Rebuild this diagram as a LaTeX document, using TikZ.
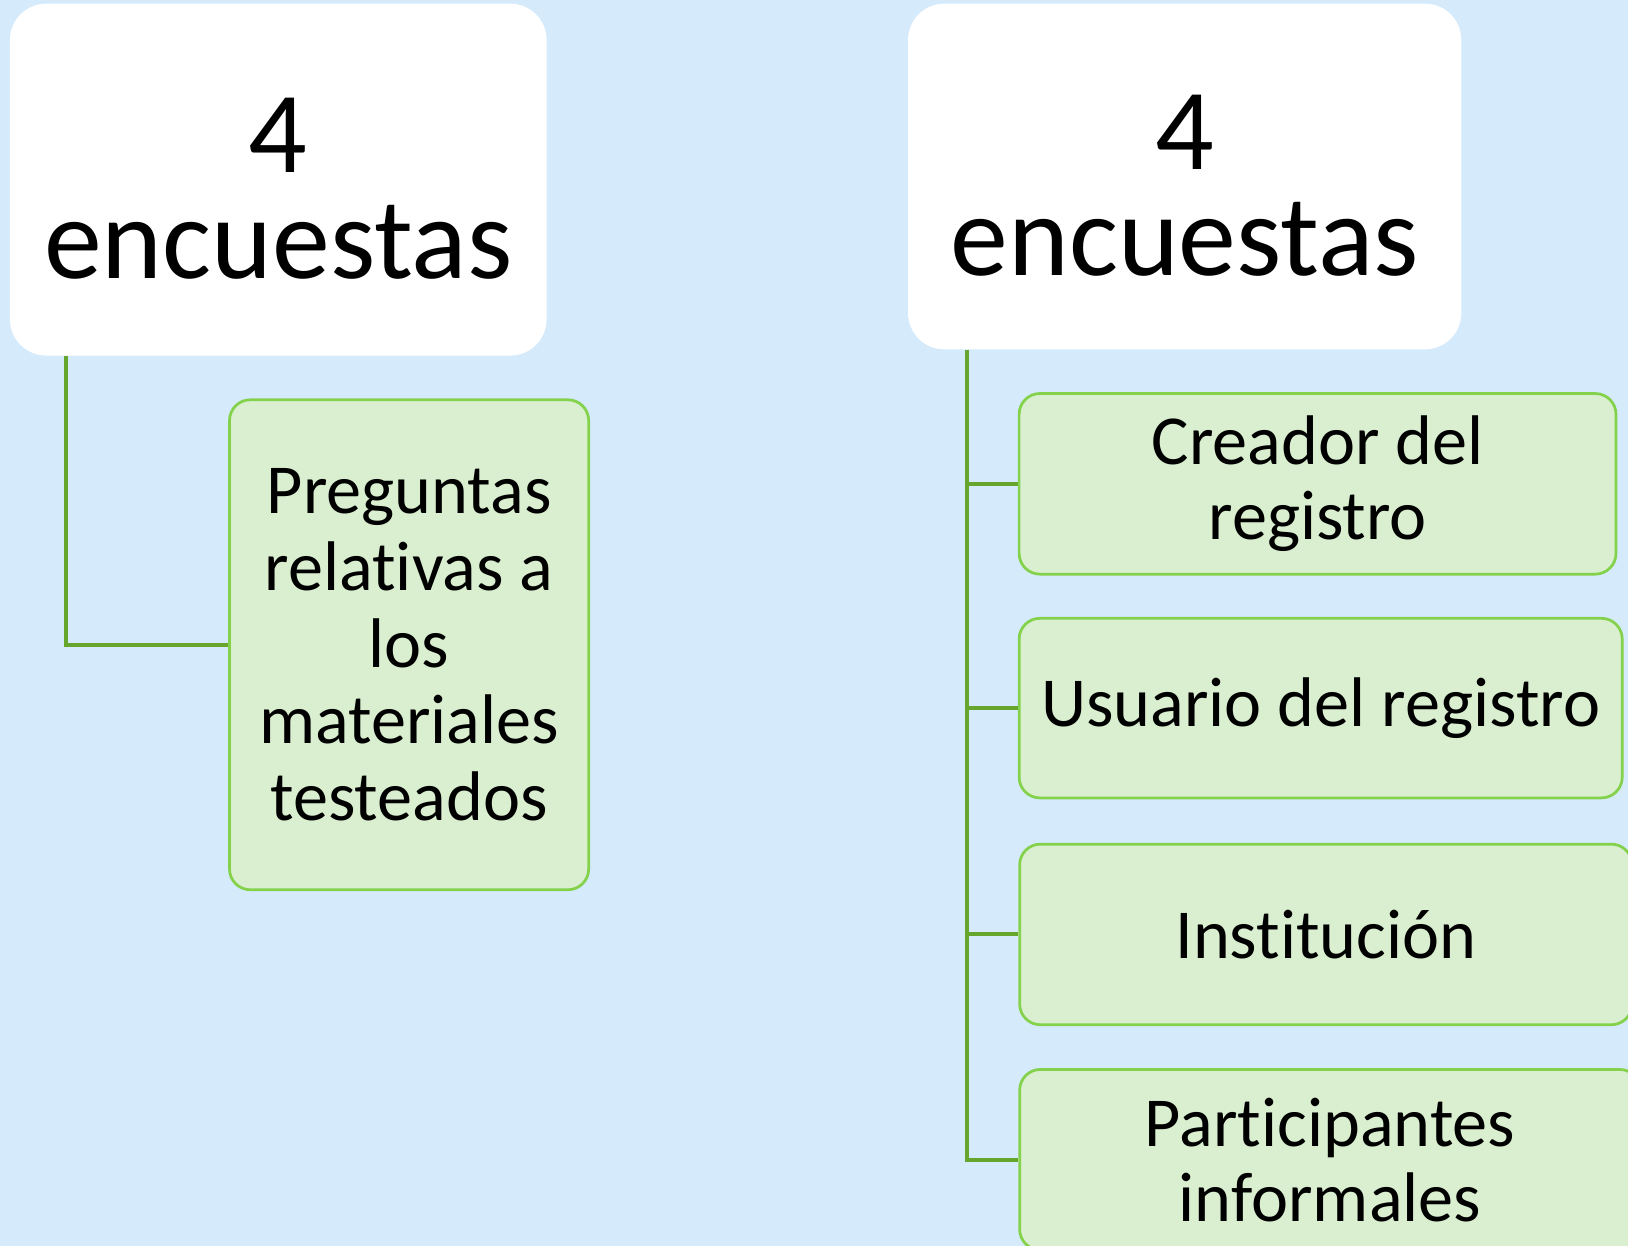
\documentclass[tikz,border=0pt]{standalone}
\usepackage{fontspec}
\setmainfont{Carlito}[Ligatures=NoCommon]
\usetikzlibrary{positioning}
\definecolor{sky}{HTML}{D5EAFB}
\definecolor{leaf}{HTML}{D9EFD0}
\definecolor{leafline}{HTML}{84D24C}
\definecolor{stem}{HTML}{66A62D}
\newcommand{\lowered}[1]{\raisebox{-5pt}[\height][\depth]{#1}}

\begin{document}
\begin{tikzpicture}[x=0.02cm,y=-0.02cm,
  head/.style={rectangle,rounded corners=0.7cm,fill=white,align=center,inner sep=0pt,
    font=\fontsize{63.5}{58}\selectfont},
  item/.style={rectangle,rounded corners=0.4cm,fill=leaf,draw=leafline,line width=1.5pt,
    align=center,inner sep=0pt,font=\fontsize{38.5}{41}\selectfont},
  link/.style={draw=stem,line width=2.2pt}]
\useasboundingbox[fill=sky] (0,0) rectangle (1568,1200);

\node[head,minimum width=10.34cm,minimum height=6.78cm] (enc1) at (268,173) {\lowered{4}\\\lowered{encuestas}};
\node[head,minimum width=10.66cm,minimum height=6.66cm] (enc2) at (1141,170) {\lowered{4}\\\lowered{encuestas}};

\node[item,minimum width=6.92cm,minimum height=9.44cm,font=\fontsize{38.5}{42}\selectfont] (preg) at (394,621)
  {Preguntas\\relativas a\\los\\materiales\\testeados};

\node[item,minimum width=11.5cm,minimum height=3.48cm] (crea) at (1269,466) {Creador del\\registro};
\node[item,minimum width=11.62cm,minimum height=3.46cm] (usua) at (1272,682) {Usuario del registro};
\node[item,minimum width=11.8cm,minimum height=3.48cm] (inst) at (1277,900) {Institución};
\node[item,minimum width=11.96cm,minimum height=3.48cm] (part) at (1281,1117) {Participantes\\informales};

% ramas
\coordinate (s1) at (64,343);
\coordinate (s2) at (931,337);
\draw[link] (s1) |- (preg.west);
\foreach \n in {crea,usua,inst,part}
  \draw[link] (s2) |- (\n.west);
\end{tikzpicture}
\end{document}
